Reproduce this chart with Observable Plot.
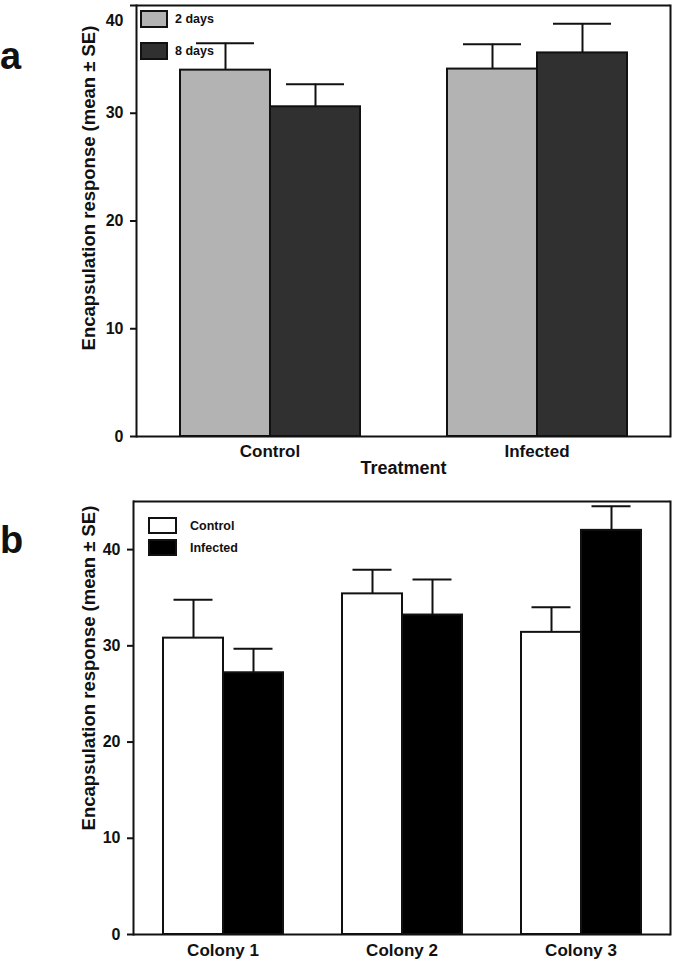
<!DOCTYPE html>
<html><head><meta charset="utf-8">
<script src="https://cdn.jsdelivr.net/npm/d3@7"></script>
<script src="https://cdn.jsdelivr.net/npm/@observablehq/plot@0.6"></script>
<style>
body{margin:0;background:#fff;font-family:"Liberation Sans",Arial,sans-serif;color:#111;}
.panel{position:relative;width:675px;}
.letter{position:absolute;left:0;font-weight:bold;font-size:38px;line-height:1;}
.item{position:absolute;display:flex;align-items:center;white-space:nowrap;font-weight:bold;font-size:12.5px;}
.sw{box-sizing:border-box;border:2px solid #111;}
</style></head><body>
<div id="a" class="panel"></div>
<div id="b" class="panel"></div>
<script>
// ---------- Panel a data ----------
const treatments = ["Control", "Infected"];
const ages = ["2 days", "8 days"];
const ageColors = ["#b3b3b3", "#303030"];
const mean2days = [34.0, 34.1];
const se2days = [2.5, 2.3];
const mean8days = [30.6, 35.6];
const se8days = [2.1, 2.7];
const yTicksA = [0, 10, 20, 30, 40];

// ---------- Panel b data ----------
const colonies = ["Colony 1", "Colony 2", "Colony 3"];
const status = ["Control", "Infected"];
const statusColors = ["#ffffff", "#000000"];
const meanControl = [30.8, 35.4, 31.4];
const seControl = [4.0, 2.5, 2.6];
const meanInfected = [27.2, 33.2, 42.0];
const seInfected = [2.5, 3.7, 2.5];
const yTicksB = [0, 10, 20, 30, 40];

const yTitle = "Encapsulation response (mean \u00b1 SE)";

function rowsOf(groups, series, means, ses) {
  const out = [];
  groups.forEach((g, i) => series.forEach((s, j) => out.push({group: g, series: s, mean: means[j][i], se: ses[j][i]})));
  return out;
}
const rowsA = rowsOf(treatments, ages, [mean2days, mean8days], [se2days, se8days]);
const rowsB = rowsOf(colonies, status, [meanControl, meanInfected], [seControl, seInfected]);

const FONT = "Liberation Sans, Arial, sans-serif";

function chart(o) {
  const marks = [
    Plot.barY(o.rows, {fx: "group", x: "series", y: "mean", fill: "series", stroke: "#111", strokeWidth: 2}),
    Plot.ruleX(o.rows, {fx: "group", x: "series", y1: "mean", y2: d => d.mean + d.se, stroke: "#111", strokeWidth: 2}),
    Plot.tickY(o.rows, {fx: "group", x: "series", y: d => d.mean + d.se, stroke: "#111", strokeWidth: 2, insetLeft: o.capInset, insetRight: o.capInset}),
    Plot.ruleY([o.yDomain[0]], {stroke: "#111", strokeWidth: 2}),
    Plot.ruleY([o.yDomain[1]], {stroke: "#111", strokeWidth: 2}),
    Plot.frame({anchor: "left", facetAnchor: "left", stroke: "#111", strokeWidth: 2}),
    Plot.frame({anchor: "right", facetAnchor: "right", stroke: "#111", strokeWidth: 2}),
    Plot.axisY({ticks: o.yTicks, tickFormat: o.tickFormat, tickSize: 6, tickPadding: 7, label: null, strokeWidth: 2, fontSize: 16, fontWeight: "bold"}),
    Plot.axisFx({anchor: "bottom", tickSize: 0, tickPadding: o.fxPadding, label: null, fontSize: 17, fontWeight: "bold"}),
    Plot.text([yTitle], {text: d => d, frameAnchor: "left", textAnchor: "middle", lineAnchor: "middle", rotate: -90, dx: o.titleDx, dy: o.titleDy, facetAnchor: "left", fontSize: 18.5, fontWeight: "bold", fill: "#111"})
  ];
  if (o.extra) marks.push(...o.extra);
  return Plot.plot({
    width: 675, height: o.height,
    marginTop: o.marginTop, marginBottom: o.marginBottom, marginLeft: o.marginLeft, marginRight: 5,
    style: {fontFamily: FONT, color: "#111", background: "#fff", overflow: "visible"},
    fx: {domain: o.groups, padding: 0},
    x: {domain: o.series, paddingInner: 0, paddingOuter: o.padOuter, axis: null},
    y: {domain: o.yDomain},
    color: {domain: o.series, range: o.colors},
    marks
  });
}

const plotA = chart({
  rows: rowsA, groups: treatments, series: ages, colors: ageColors,
  yDomain: [0, 40], yTicks: yTicksA, tickFormat: d => d === 40 ? "" : d,
  height: 480, marginTop: 5, marginBottom: 44, marginLeft: 135, padOuter: 0.47, capInset: 16,
  fxPadding: 8, titleDx: -47, titleDy: -33,
  extra: [
    Plot.text(yTicksA.filter(d => d === 40), {y: d => d, text: d => d, frameAnchor: "left", textAnchor: "end", dx: -13, dy: 15, facetAnchor: "left", fontSize: 16, fontWeight: "bold", fill: "#111"}),
    Plot.axisFx({anchor: "bottom", ticks: [], tickSize: 0, label: "Treatment", labelAnchor: "center", labelOffset: 37, fontSize: 18, fontWeight: "bold"})
  ]
});
const plotB = chart({
  rows: rowsB, groups: colonies, series: status, colors: statusColors,
  yDomain: [0, 45], yTicks: yTicksB, tickFormat: d => d,
  height: 481, marginTop: 21, marginBottom: 27, marginLeft: 132, padOuter: 0.48, capInset: 10.5,
  fxPadding: 9, titleDx: -44, titleDy: -50
});

function legend(container, series, colors, o) {
  series.forEach((s, i) => {
    const item = document.createElement("div");
    item.className = "item";
    item.style.left = o.left + "px";
    item.style.top = o.tops[i] + "px";
    const sw = document.createElement("div");
    sw.className = "sw";
    sw.style.width = o.w + "px";
    sw.style.height = o.h + "px";
    sw.style.background = colors[i];
    sw.style.marginRight = o.gap + "px";
    const t = document.createElement("span");
    t.textContent = s;
    item.appendChild(sw);
    item.appendChild(t);
    container.appendChild(item);
  });
}
function letter(container, txt, top) {
  const d = document.createElement("div");
  d.className = "letter";
  d.style.top = top + "px";
  d.textContent = txt;
  container.appendChild(d);
}

const elA = document.getElementById("a");
elA.appendChild(plotA);
legend(elA, ages, ageColors, {left: 140, tops: [10, 42], w: 28, h: 18, gap: 7});
letter(elA, "a", 37);

const elB = document.getElementById("b");
elB.appendChild(plotB);
legend(elB, status, statusColors, {left: 148, tops: [37, 59], w: 29, h: 17, gap: 13});
letter(elB, "b", 41);
</script>
</body></html>
